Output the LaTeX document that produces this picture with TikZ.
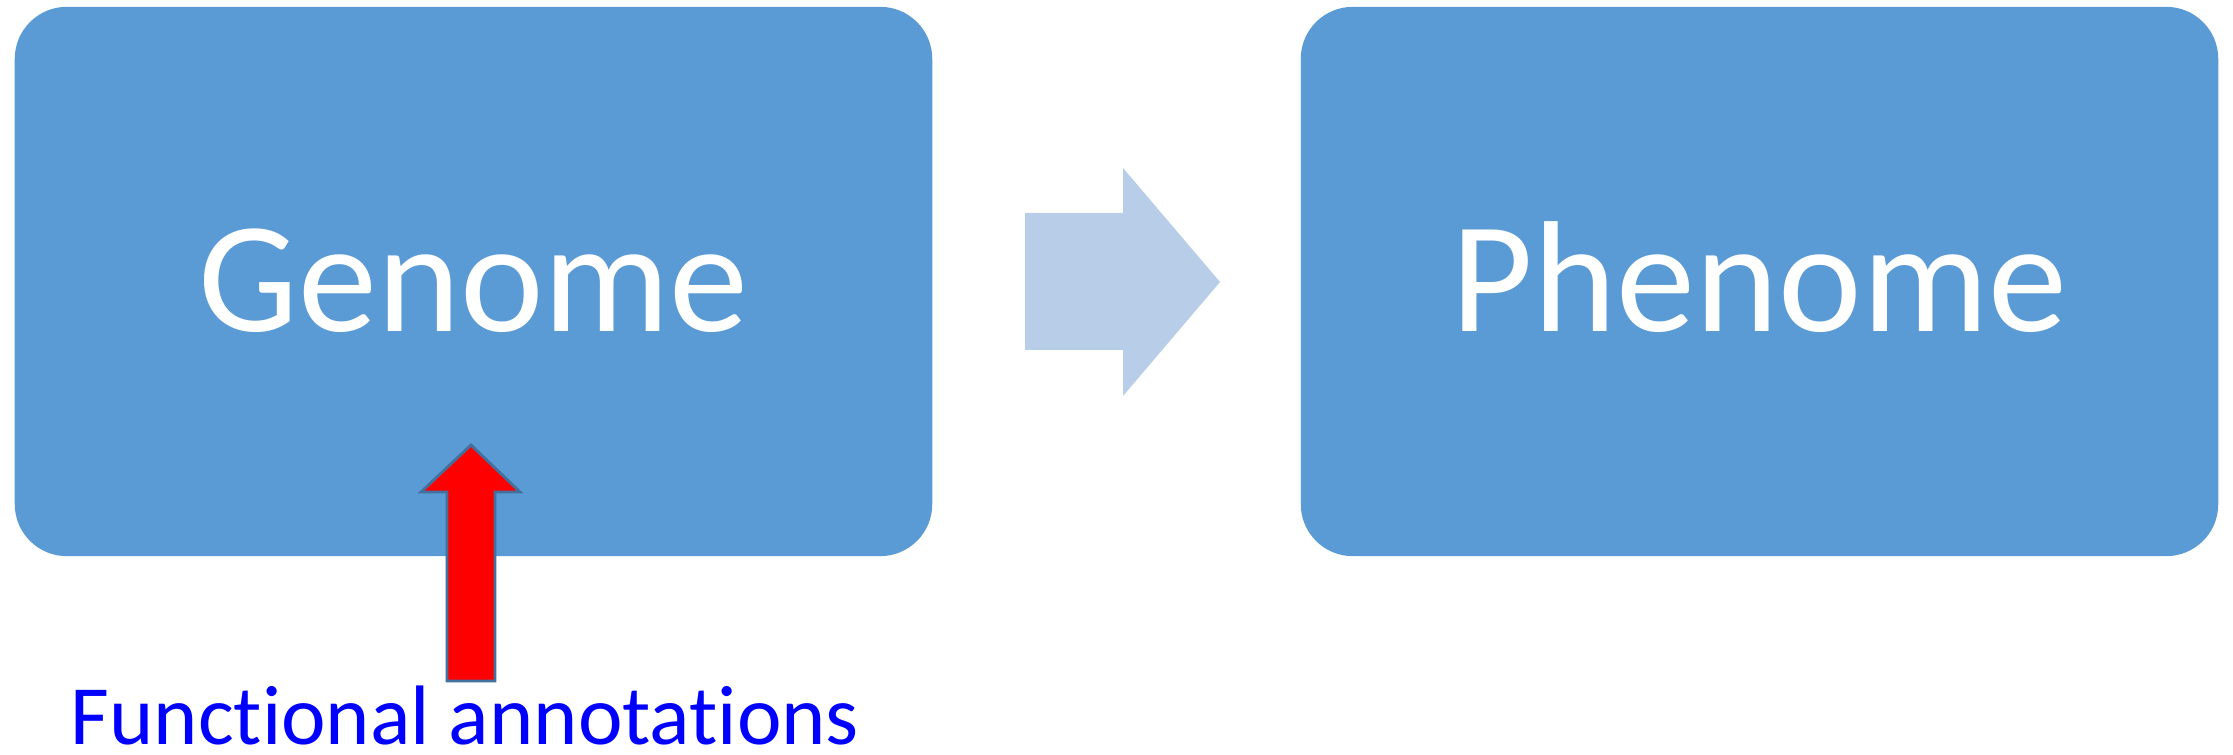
\documentclass[tikz,border=0pt]{standalone}
\usepackage{fontspec}
\setmainfont{Carlito}[Ligatures=NoCommon]
\definecolor{boxblue}{HTML}{5B9BD5}
\definecolor{arrowlight}{HTML}{B7CDE8}
\definecolor{rededge}{HTML}{41719C}
\definecolor{labelblue}{HTML}{0000FF}
\tikzset{
  bigbox/.style={draw=none, fill=boxblue, rounded corners=0.52cm,
    minimum width=9.17cm, minimum height=5.49cm, inner sep=0pt,
    text=white, font=\fontsize{45}{54}\selectfont, text height=1cm, text depth=0pt},
  flowarrow/.style={fill=arrowlight, draw=none},
  redarrow/.style={fill=red, draw=rededge, line width=0.8pt, line join=miter},
  annot/.style={text=labelblue, font=\fontsize{24}{29}\selectfont, inner sep=0pt, anchor=base west}
}
\begin{document}
\begin{tikzpicture}[x=0.01cm, y=-0.01cm]
\useasboundingbox (0,0) rectangle (2233,755);
\node[bigbox] (genome) at (473.5,281.5) {Genome};
\node[bigbox] (phenome) at (1759.5,281.5) {Phenome};
\node[annot] (func) at (70,744) {Functional annotations};
% block arrow from genome to phenome
\coordinate (ga) at (1025,281.5);
\fill[flowarrow] (ga |- 0,213) -- (1123,213) -- (1123,168) -- (1220,282)
  -- (1123,396) -- (1123,350) -- (ga |- 0,350) -- cycle;
% red arrow from annotations up into genome
\coordinate (rb) at (471,681);
\draw[redarrow] (rb -| 447,0) -- (447,492) -- (421,492) -- (471,445) -- (520,492)
  -- (495,492) -- (rb -| 495,0) -- cycle;
\end{tikzpicture}
\end{document}
